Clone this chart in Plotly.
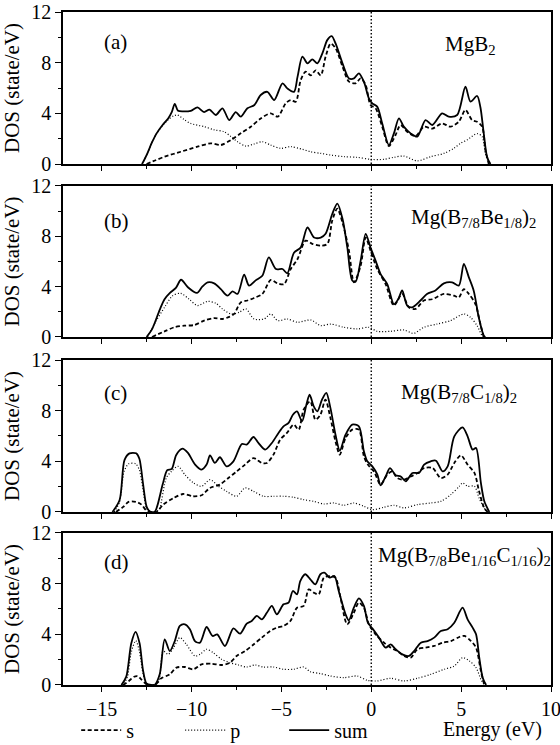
import plotly.graph_objects as go

# ---------------- data (energy in eV, DOS in state/eV) ----------------
# Panel (a) MgB2
a_sum_e = [-12.75,-12.5,-12.2,-11.95,-11.6,-11.3,-11.1,-10.93,-10.75,-10.45,-10.04,-9.67,-9.3,-9.0,-8.65,-8.28,-7.9,-7.54,-7.26,-6.89,-6.5,-6.15,-5.78,-5.4,-4.94,-4.67,-4.3,-4.1,-3.83,-3.55,-3.28,-3.0,-2.72,-2.44,-2.2,-1.98,-1.6,-1.24,-0.96,-0.69,-0.41,-0.13,0.06,0.33,0.61,0.98,1.26,1.54,1.81,2.19,2.56,3.02,3.39,3.94,4.31,4.78,5.24,5.52,5.89,6.07,6.26,6.44,6.63]
a_sum_v = [0,0.7,1.7,2.4,3.1,3.6,4.1,4.75,4.2,4.15,4.2,4.47,4.1,4.3,3.87,4.4,3.47,4.1,3.74,4.4,4.66,5.45,5.7,5.05,6.37,5.97,5.7,6.9,8.47,7.95,8.26,7.95,8.74,9.8,10.1,9.5,7.95,6.76,6.76,7.16,6.5,5.18,4.79,4.53,3.2,1.5,2.42,3.6,2.95,2.42,2.16,3.47,3.08,4.0,3.74,3.87,6.1,4.92,5.37,4.5,2.4,0.58,0]
a_p_e = [-12.75,-12.5,-12.2,-11.95,-11.6,-11.3,-11.0,-10.78,-10.4,-10.04,-9.3,-8.74,-8.19,-7.8,-7.44,-6.98,-6.52,-6.06,-5.6,-5.04,-4.48,-3.83,-3.37,-2.81,-2.26,-1.52,-0.78,-0.04,0.7,1.26,1.81,2.56,3.3,4.04,4.6,4.96,5.33,5.89,6.17,6.35,6.54]
a_p_v = [0,0.7,1.7,2.4,3.05,3.5,3.8,3.87,3.5,3.2,2.95,2.7,2.55,2.16,1.76,1.42,1.58,1.76,1.5,1.24,1.37,1.16,0.97,0.84,0.71,0.58,0.53,0.37,0.37,0.53,0.63,0.25,0.58,0.84,1.24,1.63,1.9,2.4,2.16,0.84,0]
a_s_e = [-12.5,-12.0,-11.5,-10.6,-9.67,-8.93,-8.37,-7.8,-7.26,-6.7,-6.15,-5.6,-5.2,-4.76,-4.48,-4.2,-3.93,-3.65,-3.37,-3.09,-2.81,-2.54,-2.26,-1.98,-1.6,-1.24,-0.87,-0.59,-0.31,-0.04,0.24,0.61,0.98,1.35,1.63,2.0,2.46,2.93,3.39,3.94,4.41,4.87,5.24,5.61,5.89,6.17,6.35,6.54]
a_s_v = [0,0.3,0.58,0.97,1.37,1.63,1.5,1.9,2.42,2.95,3.6,4.0,3.74,4.79,5.05,4.92,6.6,7.3,7.0,7.4,7.0,8.47,9.5,9.13,7.7,6.5,6.37,6.76,6.24,4.66,4.4,2.95,1.42,2.29,3.08,2.55,2.2,2.95,2.8,3.2,2.95,3.34,4.26,3.47,3.34,2.95,1.1,0]

# Panel (b) Mg(B7/8Be1/8)2
b_sum_e = [-12.5,-12.2,-11.77,-11.5,-11.2,-10.87,-10.58,-10.2,-9.7,-9.4,-9.1,-8.74,-8.37,-8.0,-7.72,-7.44,-7.07,-6.8,-6.43,-6.06,-5.7,-5.3,-4.94,-4.67,-4.3,-3.93,-3.55,-3.18,-2.81,-2.54,-2.17,-1.89,-1.6,-1.33,-1.06,-0.87,-0.59,-0.31,-0.04,0.24,0.52,0.89,1.26,1.5,1.72,2.0,2.28,2.74,3.1,3.57,4.04,4.5,4.87,5.15,5.43,5.7,5.98,6.26,6.35]
b_sum_v = [0,0.6,2.16,3.0,3.5,3.9,4.55,3.95,3.5,4.0,4.34,4.26,3.8,3.28,3.63,3.42,4.95,4.08,4.5,4.87,6.33,5.4,5.4,5.06,6.7,7.1,8.7,7.9,7.9,8.2,9.77,10.6,9.4,7.1,4.5,4.4,6.07,8.2,7.1,6.07,5.0,4.2,2.6,3.0,3.7,2.5,2.36,2.9,3.42,3.7,4.26,4.34,4.08,5.8,4.74,3.68,1.56,0.1,0]
b_p_e = [-12.45,-12.0,-11.5,-11.05,-10.6,-10.13,-9.67,-9.1,-8.65,-8.28,-7.81,-7.35,-6.98,-6.52,-5.96,-5.59,-5.2,-4.67,-4.1,-3.37,-2.81,-2.26,-1.52,-0.78,-0.13,0.33,1.07,1.81,2.37,2.93,3.67,4.41,5.15,5.52,5.89,6.17,6.3]
b_p_v = [0,1.2,2.36,3.28,3.47,3.0,2.5,2.83,2.68,2.23,1.83,1.96,2.23,1.43,1.43,1.83,1.3,1.43,1.17,1.35,0.9,1.03,0.77,0.64,0.77,0.45,0.45,0.56,0.29,0.77,1.03,1.3,1.83,1.56,0.9,0.1,0]
b_s_e = [-12.2,-11.5,-10.96,-10.4,-9.85,-9.3,-8.74,-8.28,-7.9,-7.63,-7.26,-6.89,-6.52,-6.06,-5.59,-5.22,-4.85,-4.48,-4.1,-3.65,-3.28,-2.81,-2.44,-2.17,-1.89,-1.6,-1.24,-0.96,-0.59,-0.31,-0.04,0.33,0.8,1.26,1.72,2.09,2.46,2.93,3.39,4.04,4.6,4.87,5.15,5.43,5.8,6.07,6.26]
b_s_v = [0,0.45,0.77,0.9,0.95,1.3,1.5,1.43,1.6,1.83,2.75,2.9,3.1,3.42,4.53,4.26,4.2,5.4,6.2,7.66,7.4,7.26,7.4,9.25,10.2,9.1,6.86,4.34,5.67,7.9,6.86,5.4,4.2,2.5,3.42,2.36,2.23,2.9,3.0,3.42,3.28,3.15,3.8,3.42,2.6,1.03,0]

# Panel (c) Mg(B7/8C1/8)2
c_sum_e = [-14.4,-14.0,-13.73,-13.45,-13.08,-12.9,-12.7,-12.5,-12.33,-12.05,-11.9,-11.6,-11.35,-11.1,-10.85,-10.5,-10.2,-9.8,-9.44,-9.16,-8.97,-8.7,-8.42,-8.05,-7.67,-7.2,-6.93,-6.55,-6.28,-5.9,-5.53,-5.16,-4.88,-4.6,-4.36,-4.13,-3.85,-3.61,-3.43,-3.2,-3.0,-2.74,-2.5,-2.27,-1.99,-1.75,-1.43,-1.06,-0.69,-0.41,-0.22,0.06,0.34,0.52,0.8,1.04,1.36,1.64,1.92,2.29,2.66,2.94,3.31,3.6,3.97,4.25,4.62,5.08,5.36,5.64,5.83,6.1,6.29,6.57]
c_sum_v = [0,0.95,4.1,4.63,4.63,4.2,2.26,0.42,0.05,0,0.5,2.2,3.3,3.4,4.5,5.0,4.66,3.74,3.34,3.74,4.47,3.87,4.32,3.6,4.0,5.37,5.32,5.92,5.45,4.92,5.45,6.24,6.76,7.03,7.68,7.95,7.16,8.47,9.26,8.34,7.95,8.87,9.4,8.2,6.1,4.84,6.1,6.9,6.76,4.79,4.0,3.6,2.95,2.1,2.8,3.47,2.9,2.8,2.42,3.08,3.08,3.74,4.0,4.05,3.2,3.6,5.97,6.68,5.97,4.92,5.05,2.29,0.84,0]
c_p_e = [-14.3,-14.0,-13.75,-13.5,-13.1,-12.9,-12.7,-12.5,-12.3,-11.9,-11.77,-11.4,-11.12,-10.75,-10.37,-9.9,-9.44,-8.97,-8.5,-8.05,-7.49,-7.02,-6.55,-6.0,-5.44,-4.88,-4.32,-3.76,-3.2,-2.64,-2.08,-1.53,-0.97,-0.41,0.06,0.71,1.27,1.82,2.57,3.31,3.87,4.43,4.9,5.08,5.36,5.74,6.0,6.29,6.48]
c_p_v = [0,0.8,3.2,3.8,3.8,3.3,1.8,0.3,0,0.1,0.3,2.7,3.2,3.6,2.95,2.3,2.03,2.55,2.03,1.63,1.24,1.9,1.63,1.24,1.24,1.24,1.16,0.97,0.84,0.63,0.71,0.53,0.71,0.45,0.18,0.37,0.53,0.32,0.58,0.71,0.84,1.37,2.03,2.29,2.03,2.03,1.1,0.3,0]
c_s_e = [-14.2,-13.8,-13.5,-13.1,-12.8,-12.5,-12.3,-11.95,-11.58,-11.0,-10.47,-9.9,-9.44,-8.97,-8.42,-7.95,-7.49,-7.02,-6.55,-6.09,-5.81,-5.44,-5.07,-4.69,-4.32,-4.04,-3.76,-3.39,-3.11,-2.83,-2.55,-2.27,-1.99,-1.75,-1.43,-1.06,-0.69,-0.41,-0.19,0.15,0.52,0.89,1.17,1.45,1.82,2.2,2.57,2.94,3.41,3.87,4.25,4.62,4.99,5.36,5.74,6.0,6.29,6.48]
c_s_v = [0,0.4,0.8,0.8,0.6,0.1,0,0,0.58,1.1,1.42,1.24,1.32,1.9,2.16,2.68,3.2,3.74,4.26,3.87,3.87,4.53,5.7,6.24,6.9,6.5,8.08,8.74,7.29,7.68,8.87,7.42,5.58,4.53,5.84,6.5,6.5,4.4,3.74,3.2,2.16,2.95,3.2,2.68,2.55,2.8,3.08,3.47,3.47,2.68,2.95,3.87,4.47,3.74,3.08,1.63,0.3,0]

# Panel (d) Mg(B7/8Be1/16C1/16)2
d_sum_e = [-13.9,-13.63,-13.35,-13.11,-12.89,-12.7,-12.51,-12.23,-12.05,-11.77,-11.49,-11.21,-10.93,-10.65,-10.37,-10.09,-9.81,-9.53,-9.16,-8.83,-8.57,-8.14,-7.67,-7.3,-6.93,-6.65,-6.37,-6.09,-5.81,-5.53,-5.25,-4.88,-4.6,-4.36,-4.13,-3.95,-3.67,-3.39,-3.11,-2.83,-2.61,-2.31,-2.05,-1.81,-1.43,-1.25,-0.97,-0.69,-0.41,-0.19,0.06,0.43,0.8,1.08,1.36,1.73,2.1,2.38,2.76,3.13,3.5,3.87,4.25,4.62,5.08,5.36,5.64,5.83,6.01,6.2,6.39]
d_sum_v = [0,0.66,3.3,4.2,3.3,1.18,0.13,0,0,0.84,3.6,2.68,3.47,4.66,4.79,4.4,3.47,3.34,4.58,3.87,4.0,3.08,4.47,4.05,4.84,5.05,5.45,5.18,5.7,6.24,5.58,6.37,6.5,7.42,7.16,8.2,8.74,8.34,7.95,8.74,8.87,8.47,8.6,7.42,5.58,5.1,6.1,6.84,6.24,4.92,4.47,3.74,2.95,3.2,2.82,2.42,2.29,2.68,3.34,3.47,3.74,4.26,4.4,4.92,6.1,5.18,4.53,4.0,2.16,0.58,0]
d_p_e = [-13.9,-13.6,-13.35,-13.1,-12.89,-12.7,-12.5,-12.3,-11.86,-11.58,-11.3,-11.0,-10.65,-10.28,-9.81,-9.53,-9.16,-8.79,-8.33,-7.86,-7.39,-6.93,-6.46,-6.0,-5.44,-4.88,-4.32,-3.76,-3.39,-2.83,-2.27,-1.53,-0.78,-0.22,0.34,1.08,1.82,2.57,3.31,4.06,4.62,5.08,5.46,5.83,6.1,6.29]
d_p_v = [0,0.5,2.6,3.5,2.6,0.9,0.1,0,0.18,2.68,2.42,2.95,3.74,3.2,2.29,2.42,2.82,2.55,2.03,1.76,1.58,1.42,1.58,1.42,1.42,1.24,1.24,1.42,1.05,0.9,0.71,0.58,0.71,0.37,0.32,0.53,0.32,0.53,0.84,1.24,1.5,2.16,1.9,1.37,0.45,0]
d_s_e = [-13.8,-13.5,-13.2,-13.0,-12.8,-12.5,-12.05,-11.68,-11.21,-10.84,-10.37,-9.9,-9.44,-8.88,-8.33,-7.86,-7.49,-7.02,-6.55,-6.09,-5.62,-5.25,-4.88,-4.5,-4.13,-3.76,-3.48,-3.2,-2.92,-2.64,-2.27,-1.99,-1.71,-1.34,-0.97,-0.69,-0.41,-0.13,0.24,0.71,1.08,1.45,1.82,2.2,2.57,3.03,3.5,3.97,4.43,4.9,5.18,5.55,5.83,6.1,6.29]
d_s_v = [0,0.3,0.65,0.7,0.45,0.05,0,0.53,0.84,1.37,1.42,1.24,1.63,1.68,1.58,1.76,2.29,2.68,3.2,3.74,4.26,4.53,4.66,5.05,6.1,6.24,7.55,7.29,7.16,8.47,8.6,8.47,6.9,4.79,5.7,6.5,6.1,4.79,4.0,3.34,2.95,2.68,2.29,2.16,2.82,2.95,3.08,3.34,3.47,3.79,3.87,3.47,2.95,1.1,0]

panel_tags = ["(a)", "(b)", "(c)", "(d)"]
compounds = ["MgB<sub>2</sub>",
             "Mg(B<sub>7/8</sub>Be<sub>1/8</sub>)<sub>2</sub>",
             "Mg(B<sub>7/8</sub>C<sub>1/8</sub>)<sub>2</sub>",
             "Mg(B<sub>7/8</sub>Be<sub>1/16</sub>C<sub>1/16</sub>)<sub>2</sub>"]
series_names = ["s", "p", "sum"]
x_range = [-17.15, 10]
y_range = [0, 12]
x_major_step, x_minor_step = 5, 2.5
y_major_step, y_minor_step = 4, 2

panels = [
    (a_s_e, a_s_v, a_p_e, a_p_v, a_sum_e, a_sum_v),
    (b_s_e, b_s_v, b_p_e, b_p_v, b_sum_e, b_sum_v),
    (c_s_e, c_s_v, c_p_e, c_p_v, c_sum_e, c_sum_v),
    (d_s_e, d_s_v, d_p_e, d_p_v, d_sum_e, d_sum_v),
]

# ---------------- styling ----------------
FONT = "Liberation Serif, Times New Roman, serif"
domains = [(0.7741, 1.0), (0.5171, 0.7415), (0.2571, 0.4829), (0.0, 0.2259)]
tag_pos = [(-15.0, 9.6), (-15.0, 9.2), (-15.0, 9.4), (-15.0, 9.7)]
comp_pos = [(3.97, 9.4), (2.08, 9.45), (1.52, 9.4), (0.24, 10.2)]
styles = [dict(color="black", width=1.8, dash="4px,2.5px"),
          dict(color="black", width=1.2, dash="1px,2px"),
          dict(color="black", width=1.8)]

fig = go.Figure()
for i, pan in enumerate(panels):
    xa = "x" if i == 0 else f"x{i+1}"
    ya = "y" if i == 0 else f"y{i+1}"
    for k in range(3):
        fig.add_trace(go.Scatter(
            x=pan[2*k], y=pan[2*k+1], mode="lines",
            line=dict(shape="spline", smoothing=0.8, **styles[k]),
            name=series_names[k], legendgroup=series_names[k],
            showlegend=(i == 0), xaxis=xa, yaxis=ya, hoverinfo="skip"))
    # Fermi level line
    fig.add_shape(type="line", xref=xa, yref=f"{ya} domain", x0=0, x1=0, y0=0, y1=1,
                  line=dict(color="black", width=1.4, dash="1.5px,2px"))
    fig.add_annotation(x=tag_pos[i][0], y=tag_pos[i][1], xref=xa, yref=ya,
                       text=panel_tags[i], showarrow=False, xanchor="left",
                       font=dict(family=FONT, size=21, color="black"))
    fig.add_annotation(x=comp_pos[i][0], y=comp_pos[i][1], xref=xa, yref=ya,
                       text=compounds[i], showarrow=False, xanchor="left",
                       font=dict(family=FONT, size=21, color="black"))

    xkey = "xaxis" if i == 0 else f"xaxis{i+1}"
    ykey = "yaxis" if i == 0 else f"yaxis{i+1}"
    fig.layout[xkey] = dict(
        showline=True, linecolor="black", linewidth=1.6, mirror=True,
        ticks="outside", tickcolor="black", tickwidth=1.3, ticklen=5,
        showgrid=False, zeroline=False, automargin=False,
        domain=[0, 1], anchor=ya, range=x_range,
        tickmode="linear", tick0=0, dtick=x_major_step,
        showticklabels=(i == 3), ticklabeloverflow="allow",
        minor=dict(dtick=x_minor_step, tick0=0, ticks="outside", ticklen=3,
                   tickcolor="black", tickwidth=1, showgrid=False),
        tickfont=dict(family=FONT, size=20, color="black"))
    fig.layout[ykey] = dict(
        showline=True, linecolor="black", linewidth=1.6, mirror=True,
        ticks="outside", tickcolor="black", tickwidth=1.3, ticklen=6,
        showgrid=False, zeroline=False, automargin=False,
        domain=list(domains[i]), anchor=xa, range=y_range,
        tickmode="linear", tick0=0, dtick=y_major_step, ticklabeloverflow="allow",
        minor=dict(dtick=y_minor_step, tick0=0, ticks="outside", ticklen=3,
                   tickcolor="black", tickwidth=1, showgrid=False),
        tickfont=dict(family=FONT, size=20, color="black"),
        title=dict(text="DOS (state/eV)", standoff=6,
                   font=dict(family=FONT, size=21, color="black")))

fig.add_annotation(x=0.881, y=-0.066, xref="paper", yref="paper", text="Energy (eV)",
                   xanchor="center", yanchor="middle",
                   showarrow=False, font=dict(family=FONT, size=20, color="black"))

fig.update_layout(
    template="none",
    width=560, height=745,
    margin=dict(l=63, r=9, t=12, b=60, autoexpand=False),
    paper_bgcolor="white", plot_bgcolor="white",
    font=dict(family=FONT, size=20, color="black"),
    legend=dict(orientation="h", x=0.027, y=-0.067, xanchor="left", yanchor="middle",
                font=dict(family=FONT, size=20, color="black"),
                entrywidth=49, entrywidthmode="pixels", itemwidth=40,
                bgcolor="rgba(0,0,0,0)"),
)

# remove the default page margin so the figure sits at the window origin
fig.write_html("out.html", config={"displayModeBar": False},
               post_script="document.body.style.margin='0';")
